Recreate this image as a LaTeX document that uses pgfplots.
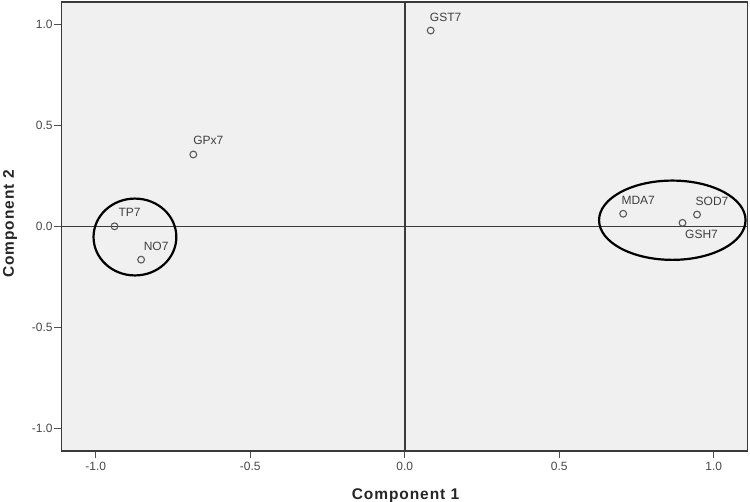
\documentclass[border=0pt]{standalone}
\usepackage{pgfplots}
\pgfplotsset{compat=1.18}
\usepackage{fontspec}
\setmainfont{Liberation Sans}
\definecolor{bgc}{HTML}{F0F0F0}
\definecolor{framec}{HTML}{3A3A3A}
\definecolor{tickc}{HTML}{505050}
\definecolor{markc}{HTML}{5A5A5A}
\begin{document}
\begin{tikzpicture}
\begin{axis}[
  at={(0,0)}, anchor=south west,
  scale only axis, width=686pt, height=449pt,
  xmin=-1.11, xmax=1.11, ymin=-1.11, ymax=1.11,
  xtick={-1,-0.5,0,0.5,1}, ytick={-1,-0.5,0,0.5,1},
  xticklabels={-1.0,-0.5,0.0,0.5,1.0},
  yticklabels={-1.0,-0.5,0.0,0.5,1.0},
  xtick pos=bottom, ytick pos=left,
  tick align=outside, major tick length=7.5pt,
  tick style={color=tickc, line width=1.1pt},
  axis background/.style={fill=bgc},
  axis line style={color=framec, line width=1.2pt},
  ticklabel style={font=\fontsize{12}{14}\selectfont, color=black!72},
  yticklabel style={xshift=2pt},
  clip=false,
]
% zero reference lines
\draw[framec, line width=1.7pt] (axis cs:0,-1.11) -- (axis cs:0,1.11);
\draw[framec, line width=1.7pt] (axis cs:-1.11,0) -- (axis cs:1.11,0);

\addplot[only marks, mark=o, mark size=3.4pt,
  mark options={draw=markc, line width=1.1pt},
  point meta=explicit symbolic, nodes near coords,
  nodes near coords style={anchor=base, xshift=15pt, yshift=9.5pt, inner sep=0pt,
    font=\fontsize{12}{14}\selectfont, color=black!75}]
  table[meta=label] {
x      y      label
-0.939 0.001  TP7
-0.853 -0.164 NO7
-0.684 0.356  GPx7
0.084  0.969  GST7
0.707  0.063  MDA7
0.946  0.059  SOD7
};
\addplot[only marks, mark=o, mark size=3.4pt,
  mark options={draw=markc, line width=1.1pt},
  point meta=explicit symbolic, nodes near coords,
  nodes near coords style={anchor=base, xshift=19pt, yshift=-15.4pt, inner sep=0pt,
    font=\fontsize{12}{14}\selectfont, color=black!75}]
  table[meta=label] {
x      y      label
0.899  0.018  GSH7
};

\draw[black, line width=2.2pt] (axis cs:-0.873,-0.052) ellipse [x radius=0.134, y radius=0.19];
\draw[black, line width=2.2pt] (axis cs:0.866,0.031) ellipse [x radius=0.237, y radius=0.196];
\end{axis}
\node[anchor=base, font=\fontsize{15.5}{18}\bfseries\selectfont, color=black!85]
  at (343.8pt,-48.3pt) {\addfontfeature{LetterSpace=6}Component 1};
\node[anchor=base, rotate=90, font=\fontsize{15.5}{18}\bfseries\selectfont, color=black!85]
  at (-47.9pt,227pt) {\addfontfeature{LetterSpace=6}Component 2};
\pgfresetboundingbox
\path[use as bounding box] (-61.7pt,-51pt) rectangle (688.3pt,451pt);
\end{tikzpicture}
\end{document}
